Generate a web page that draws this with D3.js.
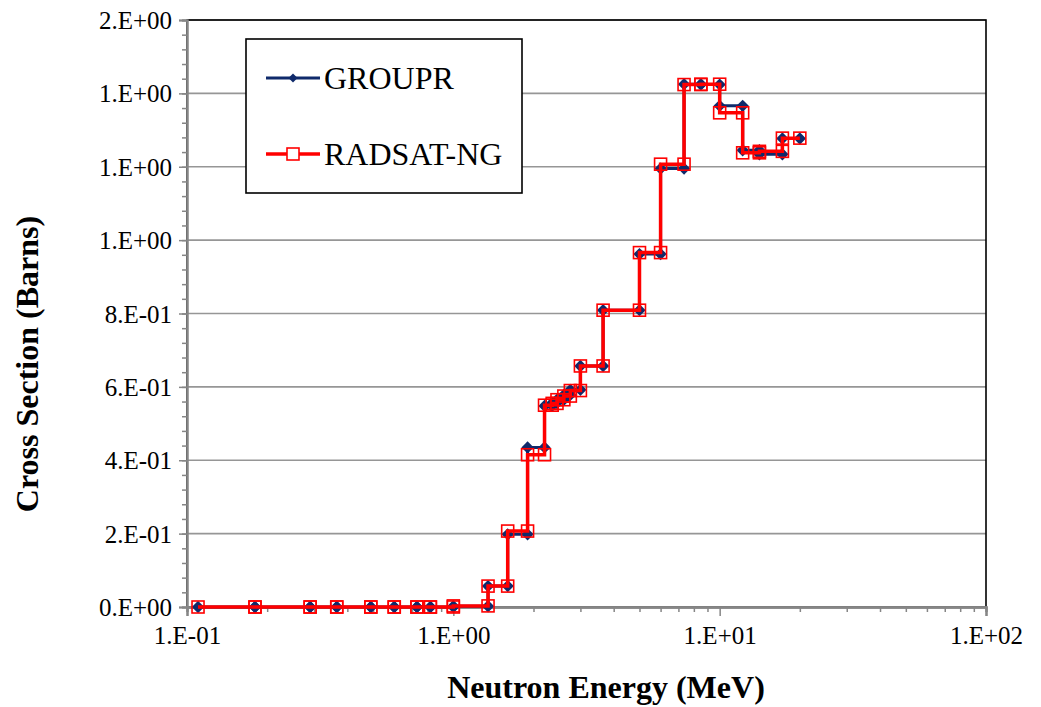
<!DOCTYPE html>
<html>
<head>
<meta charset="utf-8">
<script src="https://cdn.jsdelivr.net/npm/d3@7"></script>
<style>
  html, body { margin: 0; padding: 0; background: #fff; }
  svg text { font-family: "Liberation Serif", "Times New Roman", serif; }
</style>
</head>
<body>
<svg id="chart" width="1041" height="707"></svg>
<script>
// Group boundaries (MeV) shared by both processed libraries
const energyBounds = [0.11, 0.18, 0.29, 0.365, 0.49, 0.6, 0.73, 0.82, 1.0, 1.35,
  1.6, 1.9, 2.2, 2.35, 2.45, 2.6, 2.75, 3.0, 3.65, 5.0, 6.0, 7.35, 8.5, 10.0,
  12.2, 14.1, 17.2, 20.0];

// Group-averaged cross sections (barns), one value per group
const grouprValues = [0, 0, 0, 0, 0, 0, 0, 0, 0.002, 0.057,
  0.198, 0.435, 0.548, 0.556, 0.565, 0.578, 0.592, 0.657, 0.809, 0.962,
  1.195, 1.425, 1.424, 1.366, 1.245, 1.234, 1.277];
const radsatValues = [0, 0, 0, 0, 0, 0, 0, 0, 0.003, 0.057,
  0.207, 0.415, 0.550, 0.555, 0.565, 0.575, 0.590, 0.657, 0.809, 0.966,
  1.207, 1.424, 1.425, 1.347, 1.238, 1.242, 1.278];

const xMajorTicks = [0.1, 1, 10, 100];
const yMajorTicks = [0, 0.2, 0.4, 0.6, 0.8, 1.0, 1.2, 1.4, 1.6];
const seriesNames = ["GROUPR", "RADSAT-NG"];

const SERIF = '"Liberation Serif", "Times New Roman", serif';

// Excel-style "0.E+00" number format
function sciFmt(v) {
  if (Math.abs(v) < 1e-12) return "0.E+00";
  let e = Math.floor(Math.log10(Math.abs(v)) + 1e-9);
  let m = Math.round(v / Math.pow(10, e));
  if (Math.abs(m) >= 10) { m /= 10; e += 1; }
  const sign = e < 0 ? "-" : "+";
  const ee = String(Math.abs(e)).padStart(2, "0");
  return m + ".E" + sign + ee;
}

// Histogram-style points: each group contributes its lower and upper edge
function stepPoints(bounds, vals) {
  const pts = [];
  vals.forEach((v, i) => {
    pts.push({ e: bounds[i], s: v });
    pts.push({ e: bounds[i + 1], s: v });
  });
  return pts;
}

const svg = d3.select("#chart");
const L = 187, R = 986, T = 20, B = 607;

const x = d3.scaleLog().domain([0.1, 100]).range([L, R]);
const y = d3.scaleLinear().domain([0, 1.6]).range([B, T]);

// Horizontal gridlines
svg.append("g").selectAll("line")
  .data(yMajorTicks.slice(1))
  .join("line")
  .attr("x1", L).attr("x2", R)
  .attr("y1", d => y(d)).attr("y2", d => y(d))
  .attr("stroke", "#969696").attr("stroke-width", 1.6);

// Plot area frame
svg.append("rect")
  .attr("x", L).attr("y", T).attr("width", R - L).attr("height", B - T)
  .attr("fill", "none").attr("stroke", "#000").attr("stroke-width", 1.6);

const axisColor = "#868686";
const tickFont = 25;

// Y axis: minor ticks, then major ticks with labels
const yMinor = d3.range(0, 41).map(i => +(i * 0.04).toFixed(2));
const gyMinor = svg.append("g").attr("transform", `translate(${L},0)`)
  .call(d3.axisLeft(y).tickValues(yMinor).tickSize(5).tickFormat(""));
const gy = svg.append("g").attr("transform", `translate(${L},0)`)
  .call(d3.axisLeft(y).tickValues(yMajorTicks).tickSize(8).tickPadding(7).tickFormat(sciFmt));
[gyMinor, gy].forEach(g => {
  g.attr("font-family", null);
  g.selectAll("path.domain").attr("stroke", axisColor).attr("stroke-width", 2);
  g.selectAll(".tick line").attr("stroke", axisColor).attr("stroke-width", 1.5);
});
gy.selectAll(".tick text")
  .style("font-family", SERIF).style("font-size", tickFont + "px")
  .attr("fill", "#000").attr("dy", "0.34em");

// X axis: minor log ticks, then decades with labels
const xMinor = [];
[0.1, 1, 10].forEach(d => { for (let k = 2; k <= 9; k++) xMinor.push(+(d * k).toPrecision(3)); });
const gxMinor = svg.append("g").attr("transform", `translate(0,${B})`)
  .call(d3.axisBottom(x).tickValues(xMinor).tickSize(5).tickFormat(""));
const gx = svg.append("g").attr("transform", `translate(0,${B})`)
  .call(d3.axisBottom(x).tickValues(xMajorTicks).tickSize(9).tickPadding(8).tickFormat(sciFmt));
[gxMinor, gx].forEach(g => {
  g.attr("font-family", null);
  g.selectAll("path.domain").attr("stroke", axisColor).attr("stroke-width", 2.4);
  g.selectAll(".tick line").attr("stroke", axisColor).attr("stroke-width", 1.5);
});
gx.selectAll(".tick text")
  .style("font-family", SERIF).style("font-size", tickFont + "px")
  .attr("fill", "#000").attr("dy", "0.8em");

// Axis titles
svg.append("text")
  .attr("x", 606).attr("y", 698)
  .attr("text-anchor", "middle")
  .style("font-family", SERIF).style("font-weight", "bold").style("font-size", "32px")
  .text("Neutron Energy (MeV)");
svg.append("text")
  .attr("transform", "translate(38,364) rotate(-90)")
  .attr("text-anchor", "middle")
  .style("font-family", SERIF).style("font-weight", "bold").style("font-size", "32px")
  .text("Cross Section (Barns)");

// Series
const line = d3.line().x(d => x(d.e)).y(d => y(d.s));
const navy = "#0f2a6b", red = "#ff0000";
const diamond = d3.symbol().type(d3.symbolSquare).size(76);

const groupr = stepPoints(energyBounds, grouprValues);
const radsat = stepPoints(energyBounds, radsatValues);

svg.append("path").datum(groupr)
  .attr("d", line).attr("fill", "none")
  .attr("stroke", navy).attr("stroke-width", 3).attr("stroke-linejoin", "round");
svg.append("g").selectAll("path")
  .data(groupr).join("path")
  .attr("d", diamond)
  .attr("transform", d => `translate(${x(d.e)},${y(d.s)}) rotate(45)`)
  .attr("fill", navy);

svg.append("path").datum(radsat)
  .attr("d", line).attr("fill", "none")
  .attr("stroke", red).attr("stroke-width", 3.5).attr("stroke-linejoin", "miter");
const sq = 12;
svg.append("g").selectAll("rect")
  .data(radsat).join("rect")
  .attr("x", d => x(d.e) - sq / 2).attr("y", d => y(d.s) - sq / 2)
  .attr("width", sq).attr("height", sq)
  .attr("fill", "none").attr("stroke", red).attr("stroke-width", 1.6);

// Legend
const lg = svg.append("g");
lg.append("rect").attr("x", 246).attr("y", 39).attr("width", 276).attr("height", 154)
  .attr("fill", "#fff").attr("stroke", "#000").attr("stroke-width", 1.6);
const legendRows = [
  { name: seriesNames[0], color: navy, yy: 78, kind: "diamond" },
  { name: seriesNames[1], color: red, yy: 154, kind: "square" }
];
legendRows.forEach(r => {
  lg.append("line").attr("x1", 266).attr("x2", 320).attr("y1", r.yy).attr("y2", r.yy)
    .attr("stroke", r.color).attr("stroke-width", r.kind === "square" ? 3.5 : 3);
  if (r.kind === "diamond") {
    lg.append("path").attr("d", d3.symbol().type(d3.symbolSquare).size(40))
      .attr("transform", `translate(293,${r.yy}) rotate(45)`).attr("fill", r.color);
  } else {
    lg.append("rect").attr("x", 293 - 6).attr("y", r.yy - 6).attr("width", 12).attr("height", 12)
      .attr("fill", "#fff").attr("stroke", r.color).attr("stroke-width", 1.6);
  }
  lg.append("text").attr("x", 324).attr("y", r.yy + 11)
    .style("font-family", SERIF).style("font-size", "32px").attr("fill", "#000").text(r.name);
});
</script>
</body>
</html>
